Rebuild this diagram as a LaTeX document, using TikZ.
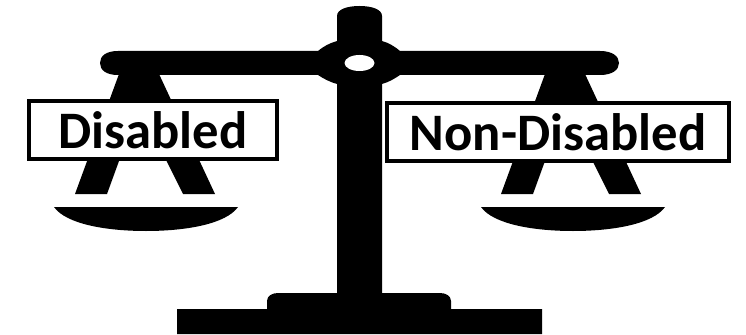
\documentclass[tikz,border=0pt]{standalone}
\usepackage{fontspec}
\setmainfont{Carlito}
\begin{document}
\begin{tikzpicture}[x=0.75pt,y=0.75pt]
\tikzstyle{every node}+=[inner sep=0pt]
\tikzstyle{labelbox}=[draw=black,fill=white,line width=3pt,font=\fontsize{39.5}{42}\selectfont\bfseries]
\useasboundingbox (0,0) rectangle (746,-335);
\fill [white] (0,0) rectangle (746,-335);
% post
\fill [black] (337,-294) -- (337,-16) .. controls (337,-9) and (348,-6) .. (359.5,-6) .. controls (371,-6) and (382,-9) .. (382,-16) -- (382,-294) -- cycle;
% base
\fill [black] (177,-309) -- (267,-309) -- (267,-301) .. controls (267,-296) and (272,-293) .. (278,-293) -- (440,-293) .. controls (446,-293) and (451,-296) .. (451,-301) -- (451,-309) -- (542,-309) -- (542,-334) -- (177,-334) -- cycle;
% beam and hub
\fill [black] (118,-51) -- (318,-51) .. controls (324,-46) and (330,-43) .. (337,-41) -- (382,-41) .. controls (389,-43) and (394,-46) .. (400,-51) -- (600,-51) .. controls (612,-51) and (619,-56) .. (619,-63) .. controls (619,-70) and (612,-75) .. (600,-75) -- (400,-75) .. controls (394,-79) and (389,-82) .. (382,-84) -- (337,-84) .. controls (330,-82) and (324,-79) .. (318,-75) -- (118,-75) .. controls (106,-75) and (100,-70) .. (100,-63) .. controls (100,-56) and (106,-51) .. (118,-51) -- cycle;
\fill [white] (359.5,-63) ellipse (15 and 8);
% left frame
\fill [black] (119,-74) -- (159,-74) -- (215,-194) -- (183,-194) -- (139,-106) -- (107,-194) -- (75,-194) -- cycle;
% right frame
\fill [black] (545,-74) -- (585,-74) -- (641,-194) -- (609,-194) -- (565,-106) -- (533,-194) -- (501,-194) -- cycle;
% left pan
\fill [black] (54,-207) -- (238,-207) .. controls (226,-224) and (186,-231) .. (146,-231) .. controls (106,-231) and (66,-224) .. (54,-207) -- cycle;
% right pan
\fill [black] (481,-207) -- (665,-207) .. controls (653,-224) and (613,-231) .. (573,-231) .. controls (533,-231) and (493,-224) .. (481,-207) -- cycle;
% labels
\node [labelbox,minimum width=186pt,minimum height=43.5pt] (disabled) at (153,-130) {Disabled};
\node [labelbox,minimum width=256.5pt,minimum height=43.5pt] (nondisabled) at (558,-132) {Non-Disabled};
\end{tikzpicture}
\end{document}
